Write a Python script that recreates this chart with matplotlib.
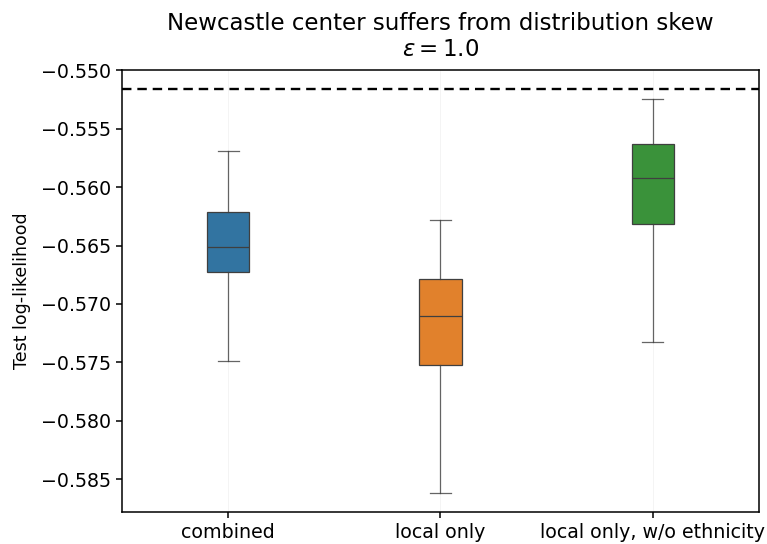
import matplotlib
matplotlib.use("Agg")
import matplotlib.pyplot as plt
import matplotlib.ticker as mticker

# summary stats per model variant (test log-likelihood)
labels = ["combined", "local only", "local only, w/o ethnicity"]
whisker_low = [-0.57486, -0.58617, -0.57323]
q1 = [-0.56723, -0.57520, -0.56320]
median = [-0.56509, -0.57100, -0.55926]
q3 = [-0.56217, -0.56783, -0.55634]
whisker_high = [-0.55694, -0.56286, -0.55249]
baseline = -0.55163
yticks = [-0.550, -0.555, -0.560, -0.565, -0.570, -0.575, -0.580, -0.585]

colors = ["#3274a1", "#e1812c", "#3a923a"]

stats = []
for i in range(len(labels)):
    stats.append({
        "label": labels[i],
        "whislo": whisker_low[i],
        "q1": q1[i],
        "med": median[i],
        "q3": q3[i],
        "whishi": whisker_high[i],
        "fliers": [],
    })

fig, ax = plt.subplots(figsize=(7.67, 5.44), dpi=100)

line_kw = dict(color="#3f3f3f", linewidth=0.9, alpha=0.8)
bp = ax.bxp(stats, positions=range(len(labels)), widths=0.2, patch_artist=True,
            showfliers=False,
            boxprops=dict(edgecolor="#3f3f3f", linewidth=0.9),
            medianprops=dict(color="#3f3f3f", linewidth=0.9),
            whiskerprops=line_kw, capprops=line_kw)
for patch, c in zip(bp["boxes"], colors):
    patch.set_facecolor(c)

ax.axhline(baseline, color="black", linestyle="--", linewidth=1.7, dashes=(4, 2.5))

ax.set_xlim(-0.5, 2.5)
ax.set_ylim(-0.5878, -0.5500)
ax.xaxis.grid(True, color="#e6e6e6", linewidth=0.5, alpha=0.6)
ax.set_axisbelow(True)

ax.set_ylabel("Test log-likelihood", fontsize=12.5, labelpad=7)
ax.set_title("Newcastle center suffers from distribution skew\n$\\epsilon = 1.0$",
             fontsize=16.5, pad=10)
ax.tick_params(labelsize=13.7, width=1.1, length=4.5)
for s in ax.spines.values():
    s.set_linewidth(1.1)
ax.set_yticks(yticks)
ax.yaxis.set_major_formatter(mticker.FuncFormatter(lambda v, p: ("%.3f" % v).replace("-", "\u2212")))

fig.subplots_adjust(left=0.159, right=0.9896, top=0.871, bottom=0.0588)
fig.savefig("out.png", dpi=100)
